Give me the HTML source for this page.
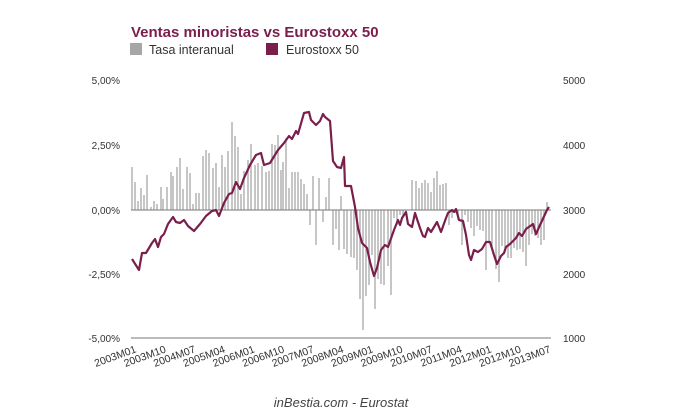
<!DOCTYPE html>
<html><head><meta charset="utf-8"><style>
body{margin:0;background:#fff;width:680px;height:420px;overflow:hidden}
svg{display:block;font-family:"Liberation Sans",sans-serif}
</style></head><body>
<svg width="680" height="420" viewBox="0 0 680 420">
<text x="131" y="37" font-size="15" font-weight="bold" fill="#7a1e4c">Ventas minoristas vs Eurostoxx 50</text>
<rect x="130" y="43" width="12" height="12" fill="#a6a6a6"/>
<text x="149" y="54" font-size="12.5" fill="#333">Tasa interanual</text>
<rect x="266" y="43" width="12" height="12" fill="#7a1e4c"/>
<text x="286" y="54" font-size="12.5" fill="#333">Eurostoxx 50</text>
<g font-size="10" fill="#333">
<text x="120" y="84" text-anchor="end">5,00%</text>
<text x="120" y="149" text-anchor="end">2,50%</text>
<text x="120" y="214" text-anchor="end">0,00%</text>
<text x="120" y="278" text-anchor="end">-2,50%</text>
<text x="120" y="342" text-anchor="end">-5,00%</text>
<text x="563" y="84">5000</text>
<text x="563" y="149">4000</text>
<text x="563" y="214">3000</text>
<text x="563" y="278">2000</text>
<text x="563" y="342">1000</text>
</g>
<path fill="none" stroke="#a8a8a8" stroke-width="1.3" d="M132 210V167M135 210V182M138 210V201M141 210V188M144 210V195M147 210V175M151 210V207M154 210V201M157 210V204M161 210V187M163 210V199M167 210V187M171 210V172M173 210V176M177 210V167M180 210V158M183 210V189M187 210V167M190 210V173M193 210V204M196 210V193M199 210V193M203 210V156M206 210V150M209 210V153M213 210V168M216 210V163M219 210V187M222 210V155M225 210V167M228 210V151M232 210V122M235 210V136M238 210V147M241 210V194M244 210V171M248 210V160M251 210V144M255 210V165M258 210V163M262 210V166M266 210V172M269 210V171M272 210V144M275 210V145M278 210V135M281 210V170M283 210V162M286 210V138M289 210V188M292 210V172M295 210V172M298 210V172M301 210V179M304 210V184M307 210V194M310 210V225M313 210V176M316 210V245M319 210V178M323 210V222M326 210V197M329 210V178M333 210V245M336 210V229M339 210V250M341 210V196M344 210V249M347 210V254M351 210V257M354 210V258M357 210V270M360 210V299M363 210V330M366 210V296M369 210V285M372 210V255M375 210V309M378 210V279M381 210V284M384 210V285M388 210V266M391 210V295M394 210V218M397 210V225M400 210V215M403 210V218M406 210V212M412 210V180M416 210V181M419 210V188M422 210V183M425 210V180M428 210V183M431 210V192M434 210V178M437 210V171M440 210V185M443 210V184M446 210V183M449 210V225M452 210V218M455 210V213M458 210V220M462 210V245M465 210V215M468 210V222M471 210V228M474 210V236M477 210V226M480 210V230M483 210V231M486 210V270M489 210V243M492 210V250M496 210V269M499 210V282M502 210V246M505 210V248M508 210V258M511 210V258M514 210V248M517 210V250M520 210V249M523 210V252M526 210V266M529 210V245M532 210V234M535 210V236M538 210V238M541 210V245M544 210V240M547 210V202"/>
<line x1="131" y1="210" x2="551" y2="210" stroke="#777" stroke-width="1"/>
<line x1="131" y1="338" x2="551" y2="338" stroke="#777" stroke-width="1"/>
<polyline fill="none" stroke="#7a1e4c" stroke-width="2.2" stroke-linejoin="round" points="132,259 139,270 142,253 146,253 152,243 155,239 158,247 161,237 164,234 168,224 173,217 176,222 180,223 184,220 188,226 194,231 200,224 206,216 212,211 216,210 219,216 224,203 229,194 232,193 236,182 240,189 244,178 250,165 256,155 261,153 264,165 270,163 278,150 284,143 289,136 292,139 296,131 298,134 304,113 309,112 311,120 316,125 320,121 323,114 325,117 330,121 333,161 337,167 341,168 344,157 345,186 351,186 355,207 358,228 362,243 367,248 370,262 374,276 377,268 381,250 385,245 388,247 394,230 398,220 400,225 402,218 406,212 408,224 412,227 415,213 420,228 423,236 425,237 428,228 431,232 437,222 441,232 446,218 448,213 452,210 454,212 456,209 459,220 463,221 466,235 469,255 471,260 474,250 478,252 482,249 486,242 490,242 494,255 497,264 501,256 504,253 506,247 510,244 516,238 519,233 522,236 526,229 533,224 536,234 540,225 547,210 549,207"/>
<g font-size="10.5" fill="#333" text-anchor="end">
<text transform="translate(137,352) rotate(-20)">2003M01</text>
<text transform="translate(166.6,352) rotate(-20)">2003M10</text>
<text transform="translate(196.2,352) rotate(-20)">2004M07</text>
<text transform="translate(225.8,352) rotate(-20)">2005M04</text>
<text transform="translate(255.4,352) rotate(-20)">2006M01</text>
<text transform="translate(285,352) rotate(-20)">2006M10</text>
<text transform="translate(314.6,352) rotate(-20)">2007M07</text>
<text transform="translate(344.2,352) rotate(-20)">2008M04</text>
<text transform="translate(373.8,352) rotate(-20)">2009M01</text>
<text transform="translate(403.4,352) rotate(-20)">2009M10</text>
<text transform="translate(433,352) rotate(-20)">2010M07</text>
<text transform="translate(462.6,352) rotate(-20)">2011M04</text>
<text transform="translate(492.2,352) rotate(-20)">2012M01</text>
<text transform="translate(521.8,352) rotate(-20)">2012M10</text>
<text transform="translate(551.4,352) rotate(-20)">2013M07</text>
</g>
<text x="341" y="407" font-size="13" font-style="italic" fill="#444" text-anchor="middle">inBestia.com - Eurostat</text>
</svg>
</body></html>
